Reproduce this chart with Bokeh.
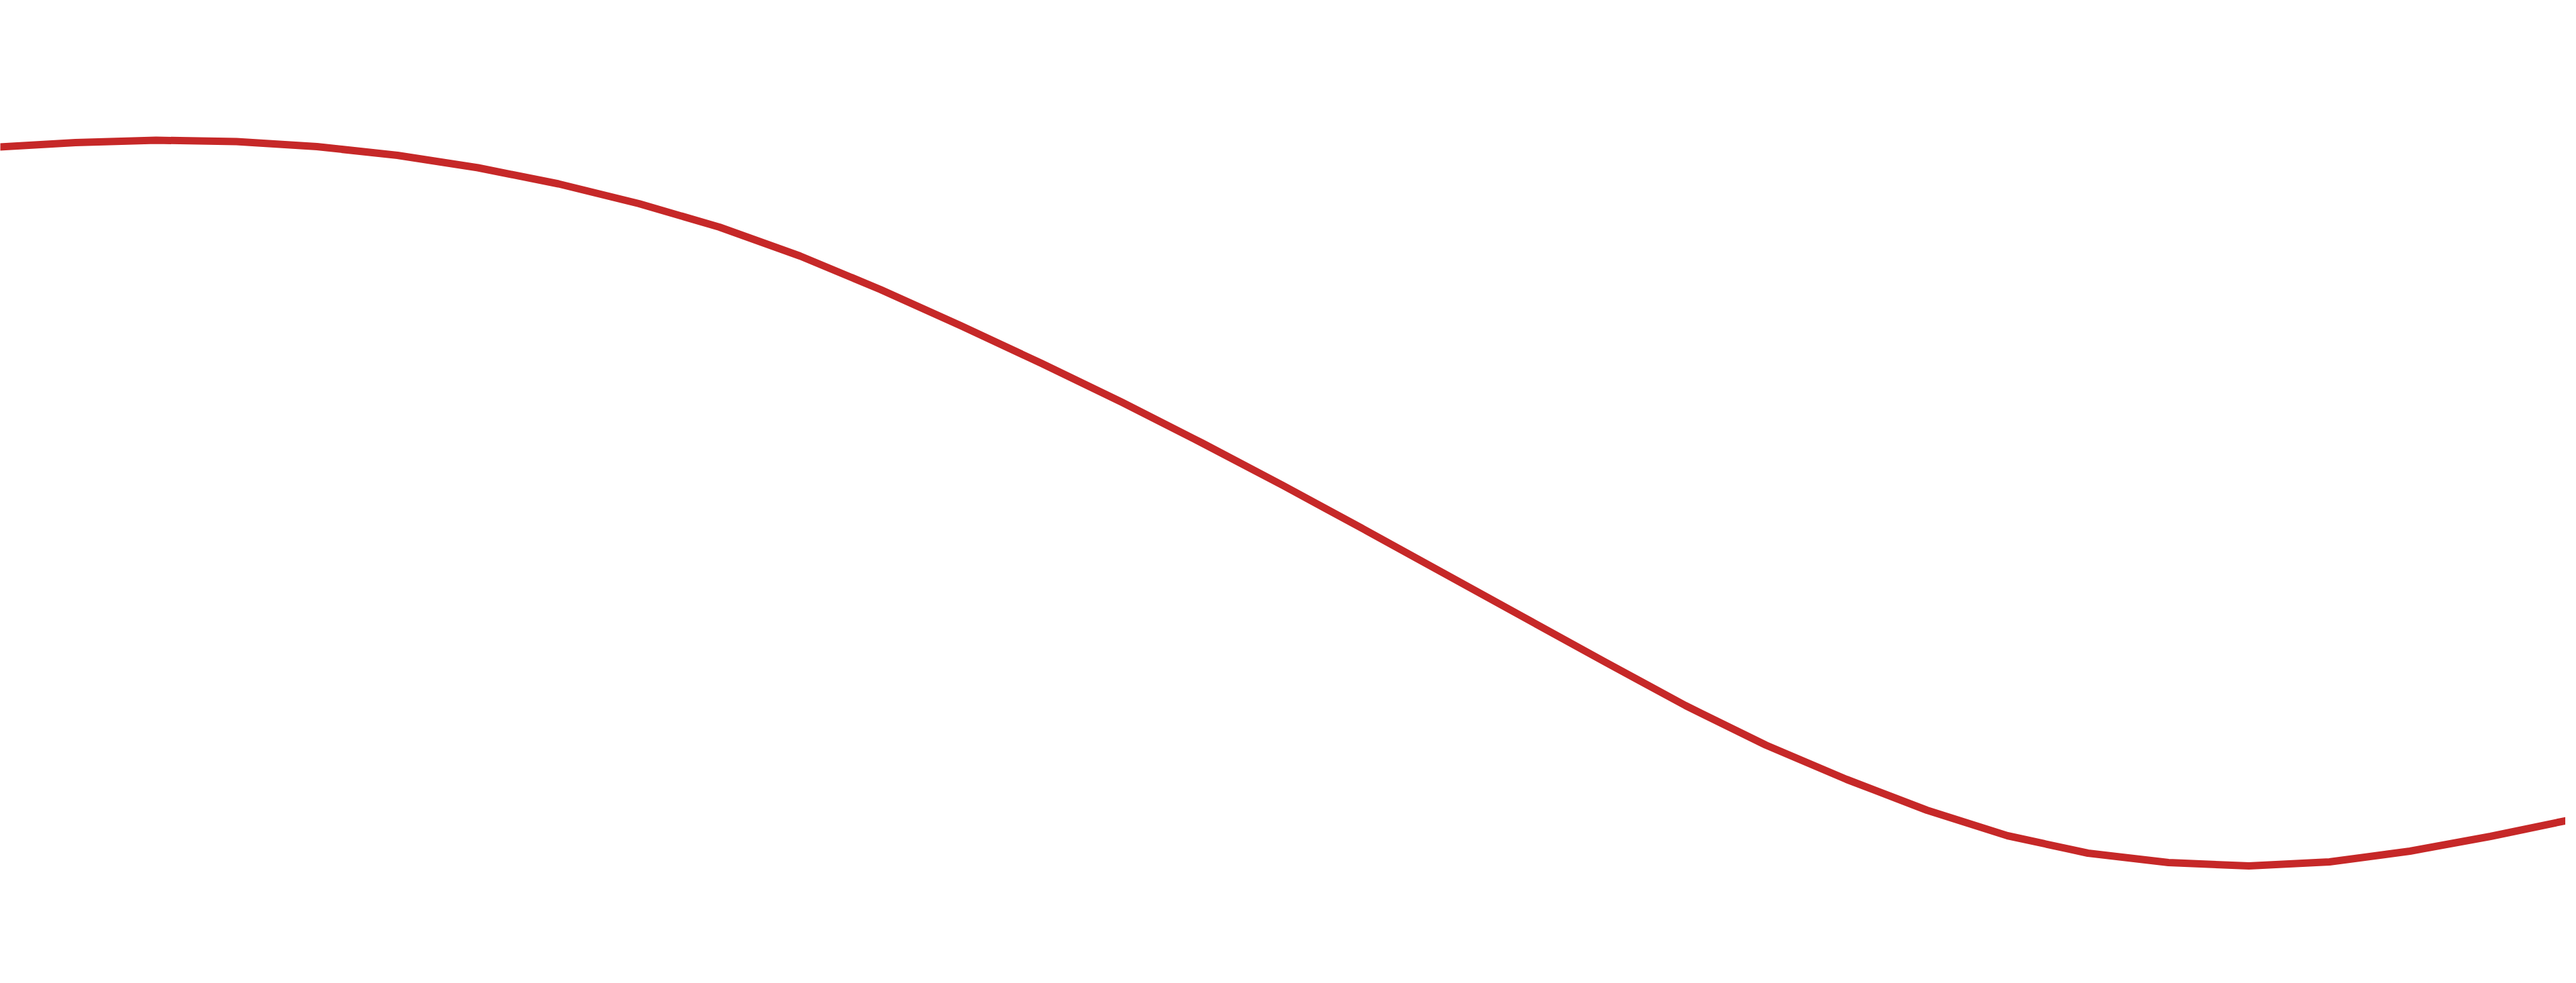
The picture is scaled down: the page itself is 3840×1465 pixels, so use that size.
from bokeh.plotting import figure
from bokeh.models import Range1d
from bokeh.embed import file_html
from bokeh.resources import INLINE

# Sample positions (step index) and curve level
steps = list(range(33))
level = [123.8, 124.5, 124.85, 124.65, 123.9, 122.6, 120.75, 118.35, 115.4, 111.9,
         107.6, 102.6, 97.2, 91.6, 85.8, 79.7, 73.4, 66.9, 60.3, 53.7,
         47.1, 40.6, 34.7, 29.6, 25.0, 21.2, 18.6, 17.2, 16.7, 17.3,
         18.9, 21.1, 23.6]

p = figure(width=3824, height=1449, output_backend="svg", toolbar_location=None,
           x_range=Range1d(8 / 120, 3832 / 120), y_range=Range1d(0.8, 145.7),
           min_border=0, min_border_left=0, min_border_right=0,
           min_border_top=0, min_border_bottom=0)
p.axis.visible = False
p.grid.visible = False
p.outline_line_color = None
p.background_fill_color = "white"
p.border_fill_color = "white"

p.line(steps, level, line_color="#c62828", line_width=11,
       line_join="round", line_cap="round")

open("out.html", "w").write(file_html(p, INLINE))
